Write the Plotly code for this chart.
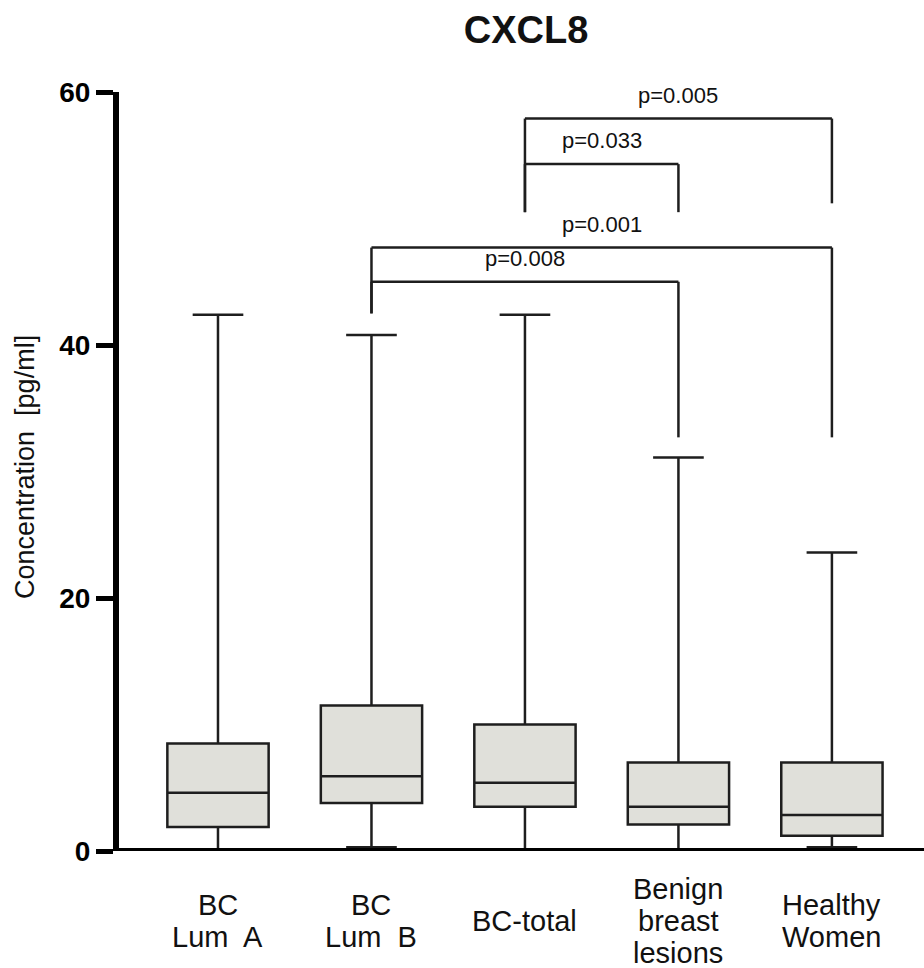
import plotly.graph_objects as go

# Groups and box statistics (pg/ml), whiskers span min to max
group_labels = [
    ["BC", "Lum  A"],
    ["BC", "Lum  B"],
    ["BC-total"],
    ["Benign", "breast", "lesions"],
    ["Healthy", "Women"],
]
q_min = [0.0, 0.3, 0.0, 0.0, 0.3]
q1 = [1.9, 3.8, 3.5, 2.1, 1.2]
median = [4.6, 5.9, 5.4, 3.5, 2.85]
q3 = [8.5, 11.5, 10.0, 7.0, 7.0]
q_max = [42.4, 40.8, 42.4, 31.1, 23.6]

# Significance brackets: (left group, right group, bar height, left leg end, right leg end, label)
bracket_left = [2, 2, 1, 1]
bracket_right = [4, 3, 4, 3]
bracket_top = [57.9, 54.3, 47.7, 45.0]
bracket_left_end = [50.5, 50.5, 42.5, 42.5]
bracket_right_end = [51.2, 50.5, 32.7, 32.7]
bracket_text = ["p=0.005", "p=0.033", "p=0.001", "p=0.008"]

y_ticks = [0, 20, 40, 60]

FONT = "Liberation Sans, Arial, sans-serif"
LINE = "#1e1e1e"

W, H = 924, 968
M_L, M_R, M_T, M_B = 119, 0, 92, 117
plot_w = W - M_L - M_R
plot_h = H - M_T - M_B
positions = list(range(len(group_labels)))

fig = go.Figure()
fig.add_trace(go.Box(
    x=positions,
    lowerfence=q_min,
    q1=q1,
    median=median,
    q3=q3,
    upperfence=q_max,
    width=0.66,
    whiskerwidth=0.5,
    fillcolor="#e0e0da",
    line=dict(color=LINE, width=2.5),
    boxpoints=False,
    hoverinfo="skip",
    showlegend=False,
))

# Baseline at y = 0, drawn over the boxes
shapes = [dict(type="line", xref="paper", yref="y", x0=-6 / plot_w, x1=1, y0=0, y1=0,
               line=dict(color="black", width=6), layer="above")]
annotations = []
for xl, xr, top, le, re_, txt in zip(bracket_left, bracket_right, bracket_top,
                                      bracket_left_end, bracket_right_end, bracket_text):
    line = dict(color=LINE, width=2.5)
    shapes.append(dict(type="line", xref="x", yref="y", x0=xl, x1=xr, y0=top, y1=top, line=line, layer="above"))
    shapes.append(dict(type="line", xref="x", yref="y", x0=xl, x1=xl, y0=top, y1=le, line=line, layer="above"))
    shapes.append(dict(type="line", xref="x", yref="y", x0=xr, x1=xr, y0=top, y1=re_, line=line, layer="above"))
    annotations.append(dict(
        x=(xl + xr) / 2, y=top, xref="x", yref="y", text=txt, showarrow=False,
        xanchor="center", yanchor="bottom", yshift=9,
        font=dict(family=FONT, size=22, color="#111"),
    ))

# Category labels, one annotation per line for tight line spacing
label_center_px = 921 - (H - M_B)  # pixels below the x axis
line_gap = 32
for pos, lines in zip(positions, group_labels):
    n = len(lines)
    for k, txt in enumerate(lines):
        off = label_center_px + (k - (n - 1) / 2) * line_gap
        annotations.append(dict(
            x=pos, y=-off / plot_h, xref="x", yref="paper", text=txt, showarrow=False,
            xanchor="center", yanchor="middle",
            font=dict(family=FONT, size=29, color="#111"),
        ))

# Y axis title
annotations.append(dict(
    x=(25 - M_L) / plot_w, y=(H - M_B - 467) / plot_h, xref="paper", yref="paper",
    text="Concentration  [pg/ml]", textangle=-90, showarrow=False,
    xanchor="center", yanchor="middle",
    font=dict(family=FONT, size=27, color="#111"),
))

fig.update_layout(
    width=W, height=H,
    margin=dict(l=M_L, r=M_R, t=M_T, b=M_B),
    paper_bgcolor="white", plot_bgcolor="white",
    title=dict(
        text="<b>CXCL8</b>", x=(526 - M_L) / plot_w, xref="paper", xanchor="center",
        y=1 - 30 / H, yref="container", yanchor="middle",
        font=dict(family=FONT, size=38, color="#111"),
    ),
    xaxis=dict(
        range=[-0.645, 4.6], showgrid=False, zeroline=False,
        showline=False, showticklabels=False, ticks="",
    ),
    yaxis=dict(
        range=[0, 60], tickvals=y_ticks, ticktext=[str(v) for v in y_ticks],
        showgrid=False, zeroline=False,
        showline=True, linecolor="black", linewidth=6,
        ticks="outside", ticklen=17, tickwidth=5, tickcolor="black",
        tickfont=dict(family=FONT, size=28, color="black", weight="bold"),
    ),
    shapes=shapes,
    annotations=annotations,
)

fig.write_html("out.html")
